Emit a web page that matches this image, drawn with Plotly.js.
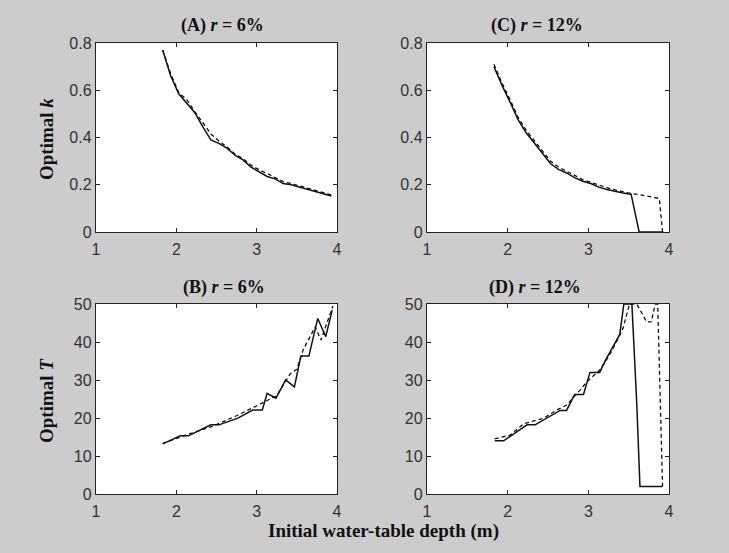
<!DOCTYPE html>
<html>
<head>
<meta charset="utf-8">
<script src="https://cdn.plot.ly/plotly-3.0.1.min.js"></script>
<style>html,body{margin:0;padding:0;background:#cccccc;}#chart{width:729px;height:553px;}</style>
</head>
<body>
<div id="chart"></div>
<script>
// Panel A: r = 6%, optimal k
const A_x = [1.83,1.93,2.03,2.13,2.23,2.33,2.43,2.53,2.63,2.73,2.83,2.93,3.03,3.13,3.23,3.33,3.43,3.53,3.63,3.73,3.83,3.93];
const A_solid = [0.77,0.66,0.585,0.545,0.505,0.445,0.39,0.375,0.355,0.325,0.305,0.275,0.255,0.235,0.225,0.205,0.2,0.19,0.18,0.17,0.162,0.152];
const A_dash = [0.77,0.67,0.59,0.56,0.51,0.465,0.415,0.385,0.36,0.33,0.31,0.283,0.263,0.248,0.232,0.213,0.205,0.195,0.185,0.175,0.165,0.157];

// Panel C: r = 12%, optimal k
const C_solid_x = [1.83,1.93,2.03,2.13,2.23,2.33,2.43,2.53,2.63,2.73,2.83,2.93,3.03,3.13,3.23,3.33,3.43,3.53,3.63,3.73,3.83,3.93];
const C_solid = [0.70,0.62,0.55,0.475,0.42,0.375,0.33,0.29,0.265,0.25,0.23,0.215,0.205,0.19,0.18,0.172,0.165,0.16,0,0,0,0];
const C_dash_x = [1.83,1.93,2.03,2.13,2.23,2.33,2.43,2.53,2.63,2.73,2.83,2.93,3.03,3.13,3.23,3.33,3.43,3.53,3.63,3.73,3.83,3.88,3.92];
const C_dash = [0.71,0.63,0.56,0.485,0.43,0.385,0.34,0.3,0.275,0.258,0.238,0.222,0.21,0.198,0.188,0.178,0.17,0.163,0.158,0.152,0.148,0.142,0];

// Panel B: r = 6%, optimal T
const B_solid_x = [1.83,2.05,2.15,2.43,2.53,2.76,2.95,3.07,3.13,3.24,3.36,3.47,3.55,3.65,3.76,3.86,3.94];
const B_solid = [13.2,15.3,15.3,18.2,18.2,19.9,22.1,22.1,26.5,25.2,30,28.2,36.3,36.3,46.2,41.4,48.4];
const B_dash_x = [1.83,2.13,2.45,2.75,3.02,3.13,3.25,3.42,3.5,3.58,3.73,3.8,3.95];
const B_dash = [13.3,15.6,17.8,20.6,23.4,24.6,25.9,31.7,32.8,38,44,40.5,49.5];

// Panel D: r = 12%, optimal T
const D_solid_x = [1.84,1.95,2.24,2.34,2.65,2.73,2.83,2.94,3.02,3.14,3.22,3.31,3.39,3.44,3.54,3.60,3.64,3.92];
const D_solid = [14,14,18.2,18.2,22,22,26.2,26.2,32,32,35.5,39,42,50,50,24,2,2];
const D_dash_x = [1.84,2.03,2.2,2.44,2.61,2.73,2.9,2.98,3.14,3.25,3.35,3.43,3.51,3.6,3.68,3.72,3.78,3.83,3.86,3.92];
const D_dash = [14.5,15.5,18.5,19.9,22.1,23.4,27.4,29.5,32.6,36.1,40.1,43.6,50,50,47,45.3,45.3,50,50,2];

const xTicks = [1,2,3,4];
const kTicks = [0,0.2,0.4,0.6,0.8];
const tTicks = [0,10,20,30,40,50];
const panelTitles = ['<b>(A) <i>r</i> = 6%</b>','<b>(C) <i>r</i> = 12%</b>','<b>(B) <i>r</i> = 6%</b>','<b>(D) <i>r</i> = 12%</b>'];
const yTitles = ['<b>Optimal <i>k</i></b>','<b>Optimal <i>T</i></b>'];
const xTitle = '<b>Initial water-table depth (m)</b>';

const solidLine = {color:'#111', width:1.5};
const dashLine = {color:'#111', width:1.3, dash:'4px,3px'};
function tr(x,y,xa,ya,line){return {x:x,y:y,xaxis:xa,yaxis:ya,type:'scatter',mode:'lines',line:line,hoverinfo:'skip',showlegend:false};}

const data = [
  tr(A_x,A_dash,'x','y',dashLine), tr(A_x,A_solid,'x','y',solidLine),
  tr(C_dash_x,C_dash,'x2','y2',dashLine), tr(C_solid_x,C_solid,'x2','y2',solidLine),
  tr(B_dash_x,B_dash,'x3','y3',dashLine), tr(B_solid_x,B_solid,'x3','y3',solidLine),
  tr(D_dash_x,D_dash,'x4','y4',dashLine), tr(D_solid_x,D_solid,'x4','y4',solidLine)
];

const W=729,H=553;
const tickFont = {family:'Liberation Sans, Arial, sans-serif', size:16, color:'#333'};
function xa(d,anchor){return {domain:d,anchor:anchor,range:[1,4],tickvals:xTicks,ticks:'inside',ticklen:4,mirror:'ticks',showline:true,linecolor:'#222',linewidth:1.2,showgrid:false,zeroline:false,tickfont:tickFont,tickcolor:'#222',ticklabelstandoff:3,fixedrange:true};}
function ya(d,anchor,r,tv){return {domain:d,anchor:anchor,range:r,tickvals:tv,ticks:'inside',ticklen:4,mirror:'ticks',showline:true,linecolor:'#222',linewidth:1.2,showgrid:false,zeroline:false,tickfont:tickFont,tickcolor:'#222',fixedrange:true};}
const dxL=[96/W,337/W], dxR=[427/W,669/W];
const dyT=[(H-232)/H,(H-43)/H], dyB=[(H-494)/H,(H-304)/H];
const titleFont = {family:'Liberation Serif, Times New Roman, serif', size:18, color:'#111'};
const axTitleFont = {family:'Liberation Serif, Times New Roman, serif', size:19, color:'#111'};
function ann(text,px,py,angle,f){return {text:text,xref:'paper',yref:'paper',x:px/W,y:1-py/H,xanchor:'center',yanchor:'middle',showarrow:false,font:f||titleFont,textangle:angle||0};}

const layout = {
  width:W,height:H,margin:{l:0,r:0,t:0,b:0},
  paper_bgcolor:'#cccccc',plot_bgcolor:'#ffffff',showlegend:false,
  xaxis:xa(dxL,'y'), yaxis:ya(dyT,'x',[0,0.8],kTicks),
  xaxis2:xa(dxR,'y2'), yaxis2:ya(dyT,'x2',[0,0.8],kTicks),
  xaxis3:xa(dxL,'y3'), yaxis3:ya(dyB,'x3',[0,50],tTicks),
  xaxis4:xa(dxR,'y4'), yaxis4:ya(dyB,'x4',[0,50],tTicks),
  annotations:[
    ann(panelTitles[0],222,26), ann(panelTitles[1],537,26),
    ann(panelTitles[2],224,287), ann(panelTitles[3],535,287),
    ann(yTitles[0],46,139,-90,axTitleFont), ann(yTitles[1],46,400,-90,axTitleFont),
    ann(xTitle,383,531,0,axTitleFont)
  ]
};
Plotly.newPlot('chart',data,layout,{staticPlot:true,displayModeBar:false});
</script>
</body>
</html>
